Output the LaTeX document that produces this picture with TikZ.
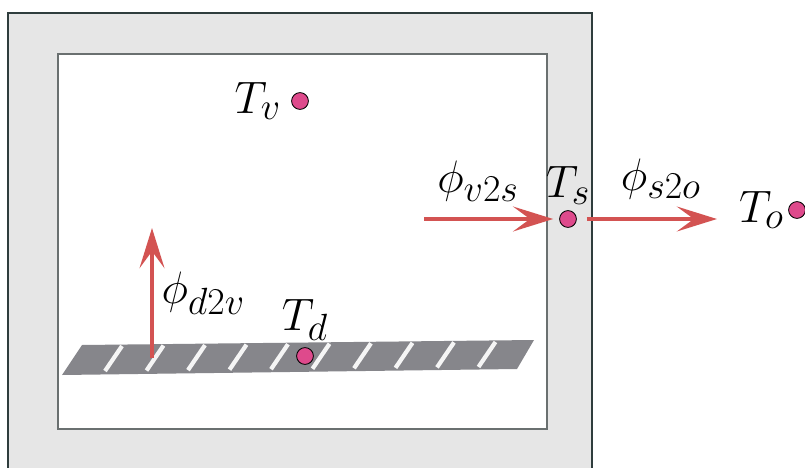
\documentclass[tikz,border=0pt]{standalone}
\usepackage{tikz}
\usetikzlibrary{positioning, arrows.meta}
\definecolor{wallgray}{HTML}{E6E6E6}
\definecolor{wallline}{HTML}{2F3D3D}
\definecolor{innerline}{HTML}{6A7070}
\definecolor{slabcol}{HTML}{86868B}
\definecolor{fluxred}{HTML}{D35352}
\definecolor{dotpink}{HTML}{DE4A8C}
\tikzset{
  tdot/.style={circle, fill=dotpink, draw=black, line width=0.6pt,
               minimum size=0.42cm, inner sep=0pt},
  tlab/.style={font=\Huge, scale=1.3, text=black, inner sep=1pt},
  farr/.style={-{Stealth[length=1cm, width=0.62cm, inset=0.42cm]},
               fluxred, line width=3.4pt},
  stripe/.style={draw=white!96!black, line width=3pt},
}

\begin{document}
\begin{tikzpicture}[x=0.025cm, y=-0.025cm]

  \useasboundingbox (0,0) rectangle (805,468);
  \clip (0,0) rectangle (805,468);

  % --- wall and room ------------------------------------------------
  \filldraw[fill=wallgray, draw=wallline, line width=0.8pt] (8,13) rectangle (592,490);
  \filldraw[fill=white, draw=innerline, line width=0.8pt] (58,54) rectangle (547,429);

  % --- slab with stripes --------------------------------------------
  \fill[slabcol] (82,345) -- (534,340) -- (517,369) -- (62,375) -- cycle;
  \foreach \i in {0,...,9}
    \draw[stripe] (122+41.5*\i,346-0.45*\i) -- (105+41.5*\i,371-0.45*\i);

  % --- temperature points -------------------------------------------
  \node[tdot] (tv) at (300,101) {};
  \node[tdot] (ts) at (568,219) {};
  \node[tdot] (to) at (797,210) {};
  \node[tdot] (td) at (305,356) {};

  \node[tlab, left=0.2cm of tv]   {$T_v$};
  \node[tlab, above=0.08cm of ts] {$T_s$};
  \node[tlab, left=0.05cm of to]  {$T_o$};
  \node[tlab, above=0.1cm of td]  {$T_d$};

  % --- heat flows ---------------------------------------------------
  \coordinate (v2sstart) at (424,219);
  \coordinate (s2oend)   at (717,219);
  \coordinate (d2vbase)  at (152,358);
  \coordinate (d2vtop)   at (152,228);

  \draw[farr, shorten >=0.15cm] (v2sstart) -- node[tlab, pos=0.4, above=0.32cm]{$\phi_{v2s}$} (ts);
  \draw[farr, shorten <=0.25cm] (ts) -- node[tlab, pos=0.6, above=0.38cm]{$\phi_{s2o}$} (s2oend);
  \draw[farr] (d2vbase) -- node[tlab, pos=0.5, right=0.12cm]{$\phi_{d2v}$} (d2vtop);

\end{tikzpicture}
\end{document}
